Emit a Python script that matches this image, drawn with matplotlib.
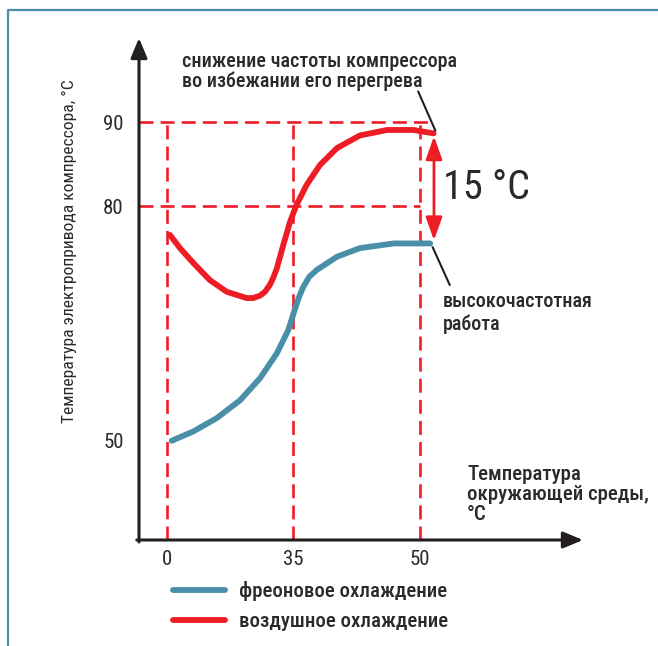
import numpy as np
import matplotlib
matplotlib.use('Agg')
import matplotlib.pyplot as plt
from matplotlib.lines import Line2D

plt.rcParams['font.family'] = ['Roboto Condensed', 'DejaVu Sans']

# --- data ---
x_ticks = [0, 35, 50]
y_ticks = [50, 80, 90]

air_x = [0.8, 3.6, 7.3, 11.9, 16.6, 22.1, 23.9, 25.8, 27.2, 28.6, 29.6, 30.5, 32.3, 34.2,
         35.4, 36.6, 38.2, 40.2, 42.9, 46.1, 49.2, 51.6]
air_y = [76.3, 74.6, 72.7, 70.5, 69.0, 68.2, 68.2, 68.5, 69.0, 69.9, 70.9, 72.0, 75.0, 78.0,
         80.1, 82.5, 84.9, 86.9, 88.4, 89.05, 89.05, 88.65]

freon_x = [1.3, 7.3, 13.8, 20.3, 25.8, 30.5, 33.7, 35.2, 35.7, 36.2, 36.9, 37.8, 40.2, 42.9,
           46.9, 51.2]
freon_y = [49.9, 51.1, 52.8, 55.1, 57.9, 61.1, 64.1, 66.7, 68.3, 69.6, 70.9, 71.8, 73.5, 74.6,
           75.2, 75.2]

red = '#ee1c25'
blue = '#4a8fa8'
dark = '#231f20'
txt = '#2a2a2a'

W, H = 658, 646


def piecewise(a, b):
    a = np.asarray(a, float)
    b = np.asarray(b, float)

    def f(v):
        v = np.asarray(v, float)
        out = np.interp(v, a, b)
        out = np.where(v < a[0], b[0] + (v - a[0]) * (b[1] - b[0]) / (a[1] - a[0]), out)
        out = np.where(v > a[-1], b[-1] + (v - a[-1]) * (b[-1] - b[-2]) / (a[-1] - a[-2]), out)
        return out
    return f


def fx(px):
    return px / W


def fy(py):
    return 1 - py / H


fig = plt.figure(figsize=(W / 100, H / 100), dpi=100)

# frame lines (left and top)
fig.add_artist(Line2D([fx(8), fx(8), 1], [0, fy(10), fy(10)], color=blue, lw=1.6))

ax = fig.add_axes([fx(139), fy(540), fx(583) - fx(139), fy(38) - fy(540)])
ax.set_xscale('function', functions=(piecewise([0, 35, 50], [0, 126, 253]),
                                     piecewise([0, 126, 253], [0, 35, 50])))
ax.set_yscale('function', functions=(piecewise([50, 80, 90], [0, 234, 318]),
                                     piecewise([0, 234, 318], [50, 80, 90])))
xmin, xmax = -7.78, 69.25
ymin, ymax = 37.18, 100.0
ax.set_xlim(xmin, xmax)
ax.set_ylim(ymin, ymax)
for s in ax.spines.values():
    s.set_visible(False)
ax.patch.set_alpha(0)

# axes with arrows
ax.annotate('', xy=(0, 1), xytext=(0, -0.004), xycoords='axes fraction',
            arrowprops=dict(arrowstyle='-|>,head_length=0.6,head_width=0.25', color=dark,
                            lw=2.2, mutation_scale=20, shrinkA=0, shrinkB=0))
ax.annotate('', xy=(1, 0), xytext=(-0.005, 0), xycoords='axes fraction',
            arrowprops=dict(arrowstyle='-|>,head_length=0.6,head_width=0.25', color=dark,
                            lw=2.2, mutation_scale=20, shrinkA=0, shrinkB=0))

ax.set_xticks(x_ticks)
ax.set_xticklabels([str(v) for v in x_ticks])
ax.set_yticks(y_ticks)
ax.set_yticklabels([str(v) for v in y_ticks])
ax.tick_params(length=0, labelsize=15, colors=txt)
ax.tick_params(axis='x', pad=7)
ax.tick_params(axis='y', pad=11)
ax.xaxis.set_minor_locator(matplotlib.ticker.NullLocator())
ax.yaxis.set_minor_locator(matplotlib.ticker.NullLocator())

# dashed guides
dash = dict(color=red, lw=1.9, dashes=(5.3, 2.7))
ax.plot([xmin, 51.0], [90, 90], **dash)
ax.plot([xmin, 50], [80, 80], **dash)
for xv in x_ticks:
    ax.plot([xv, xv], [ymin, 90], **dash)

# curves
l1, = ax.plot(freon_x, freon_y, color=blue, lw=4.2, solid_capstyle='round',
              solid_joinstyle='round', label='фреоновое охлаждение')
l2, = ax.plot(air_x, air_y, color=red, lw=4.2, solid_capstyle='round',
              solid_joinstyle='round', label='воздушное охлаждение')

# 15 °C double arrow
ax.annotate('', xy=(51.65, 75.6), xytext=(51.65, 88.3),
            arrowprops=dict(arrowstyle='<|-|>,head_length=0.7,head_width=0.25', color=red,
                            lw=2.0, mutation_scale=20, shrinkA=0, shrinkB=0))
fig.text(fx(443), fy(199), '15 °C', fontsize=29, color=txt, va='baseline', ha='left')

# leader lines
ax.plot([51.8, 49.8], [89.0, 93.6], color=dark, lw=1.5)
ax.plot([51.5, 53.5], [74.7, 69.9], color=dark, lw=1.5)

fig.text(fx(182), fy(87), 'снижение частоты компрессора\nво избежании его перегрева',
         fontsize=14.5, fontweight=500, color=txt, va='baseline', ha='left', linespacing=1.06)
fig.text(fx(443), fy(330), 'высокочастотная\nработа', fontsize=14.5, fontweight=500,
         color=txt, va='baseline', ha='left', linespacing=1.22)
fig.text(fx(467), fy(520), 'Температура\nокружающей среды,\n°C', fontsize=15,
         fontweight=500, color=txt, va='baseline', ha='left', linespacing=1.08)
fig.text(fx(69), fy(251), 'Температура электропривода компрессора, °C', fontsize=12.6,
         color=txt, rotation=90, va='center', ha='center')

fig.legend(handles=[l1, l2], loc='upper left', bbox_to_anchor=(fx(173), fy(581)),
           frameon=False, prop=dict(size=15, weight=500), handlelength=2.5,
           handletextpad=0.65, labelspacing=0.55, borderaxespad=0, borderpad=0,
           labelcolor=txt)

fig.savefig('out.png', dpi=100)
